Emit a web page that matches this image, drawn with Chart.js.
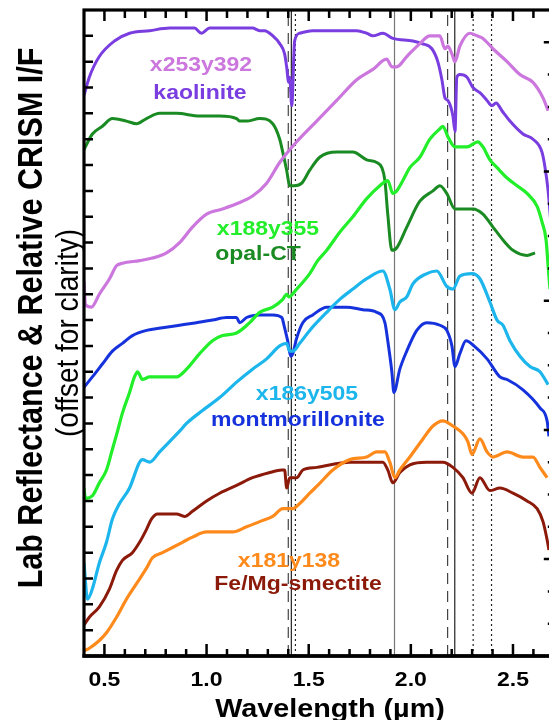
<!DOCTYPE html>
<html>
<head>
<meta charset="utf-8">
<script src="https://cdn.jsdelivr.net/npm/chart.js@4/dist/chart.umd.min.js"></script>
<style>
  html, body { margin: 0; padding: 0; overflow: hidden; background: #fff; }
  #wrap { position: relative; width: 560px; height: 720px; }
</style>
</head>
<body>
<div id="wrap"><canvas id="chart"></canvas></div>
<script>
// --- data (wavelength in µm, offset reflectance / I/F) ---
const kaolWl = [0.40,0.426,0.475,0.549,0.623,0.721,0.819,0.941,0.975,1.015,1.225,1.26,1.284,1.324,1.358,1.382,1.392,1.402,1.407,1.417,1.431,1.456,1.52,1.652,1.735,1.784,1.814,1.863,1.912,2.01,2.054,2.103,2.132,2.152,2.167,2.181,2.206,2.216,2.225,2.24,2.275,2.304,2.338,2.373,2.397,2.417,2.446,2.485,2.549,2.598,2.642,2.657,2.672,2.686];
const kaolVal = [2.17,2.24,2.32,2.38,2.41,2.42,2.43,2.43,2.41,2.43,2.43,2.42,2.42,2.40,2.37,2.33,2.28,2.22,2.24,2.13,2.38,2.41,2.42,2.42,2.42,2.41,2.40,2.41,2.39,2.38,2.37,2.35,2.30,2.23,2.16,2.15,2.09,2.03,2.24,2.25,2.24,2.20,2.18,2.15,2.13,2.14,2.11,2.07,2.02,2.00,1.95,1.89,1.80,1.67];

const x253Wl = [0.40,0.407,0.436,0.475,0.525,0.559,0.588,0.672,0.735,0.804,0.868,0.931,1.00,1.078,1.147,1.225,1.294,1.358,1.441,1.539,1.637,1.735,1.814,1.882,1.907,1.931,1.98,2.044,2.093,2.118,2.142,2.167,2.181,2.201,2.216,2.24,2.289,2.324,2.353,2.402,2.471,2.534,2.598,2.647,2.672];
const x253Val = [1.45,1.36,1.35,1.40,1.46,1.51,1.52,1.53,1.54,1.56,1.60,1.66,1.71,1.73,1.75,1.78,1.83,1.91,1.99,2.07,2.15,2.23,2.27,2.31,2.28,2.28,2.32,2.37,2.40,2.40,2.40,2.35,2.36,2.33,2.30,2.36,2.41,2.40,2.39,2.35,2.30,2.25,2.22,2.16,2.11];

const opalWl = [0.40,0.441,0.49,0.539,0.608,0.657,0.706,0.77,0.853,0.966,1.064,1.147,1.162,1.196,1.26,1.324,1.358,1.373,1.392,1.407,1.431,1.466,1.505,1.554,1.637,1.716,1.784,1.833,1.858,1.873,1.887,1.907,1.931,1.98,2.044,2.108,2.142,2.176,2.216,2.255,2.304,2.353,2.402,2.451,2.50,2.569,2.608];
const opalVal = [1.96,2.02,2.05,2.08,2.07,2.06,2.08,2.10,2.10,2.09,2.09,2.08,2.07,2.07,2.08,2.06,2.00,1.95,1.88,1.82,1.82,1.83,1.88,1.93,1.95,1.95,1.92,1.91,1.89,1.84,1.71,1.57,1.58,1.66,1.76,1.80,1.82,1.79,1.73,1.73,1.73,1.71,1.66,1.61,1.57,1.55,1.56];

const x188Wl = [0.40,0.407,0.441,0.475,0.51,0.539,0.564,0.588,0.623,0.647,0.662,0.686,0.721,0.77,0.819,0.853,0.902,0.966,1.029,1.078,1.147,1.211,1.26,1.324,1.373,1.392,1.402,1.441,1.505,1.544,1.588,1.652,1.716,1.784,1.848,1.887,1.912,1.931,1.961,1.995,2.044,2.093,2.142,2.157,2.181,2.216,2.275,2.328,2.353,2.387,2.422,2.471,2.52,2.569,2.618,2.642,2.662,2.672,2.681];
const x188Val = [0.65,0.61,0.62,0.67,0.72,0.80,0.87,0.94,1.02,1.08,1.10,1.07,1.08,1.08,1.08,1.08,1.11,1.17,1.22,1.24,1.25,1.29,1.33,1.35,1.38,1.40,1.39,1.42,1.48,1.53,1.57,1.64,1.70,1.77,1.82,1.84,1.79,1.80,1.84,1.89,1.93,2.00,2.04,2.05,2.01,1.97,1.97,1.99,1.97,1.92,1.89,1.85,1.82,1.79,1.74,1.68,1.61,1.51,1.42];

const montWl = [0.40,0.441,0.49,0.539,0.588,0.637,0.706,0.784,0.868,0.951,1.029,1.098,1.147,1.162,1.196,1.26,1.324,1.368,1.382,1.397,1.412,1.422,1.441,1.471,1.52,1.588,1.686,1.765,1.833,1.873,1.887,1.907,1.917,1.946,1.98,2.029,2.078,2.142,2.176,2.201,2.216,2.24,2.27,2.309,2.373,2.436,2.471,2.549,2.632,2.667,2.676];
const montVal = [1.04,1.08,1.13,1.18,1.21,1.24,1.26,1.27,1.28,1.29,1.30,1.31,1.31,1.29,1.31,1.32,1.32,1.31,1.27,1.22,1.16,1.17,1.23,1.29,1.32,1.35,1.35,1.34,1.33,1.29,1.22,1.10,1.02,1.11,1.18,1.26,1.29,1.28,1.26,1.20,1.12,1.17,1.22,1.20,1.15,1.08,1.07,1.03,0.96,0.91,0.85];

const x186Wl = [0.40,0.417,0.441,0.475,0.51,0.539,0.574,0.623,0.672,0.686,0.721,0.77,0.819,0.868,0.902,0.98,1.064,1.147,1.225,1.294,1.358,1.392,1.407,1.422,1.456,1.505,1.588,1.652,1.716,1.784,1.863,1.897,1.922,1.946,1.98,2.01,2.078,2.127,2.176,2.206,2.24,2.299,2.338,2.387,2.422,2.451,2.485,2.534,2.583,2.632,2.672];
const x186Val = [0.36,0.22,0.26,0.36,0.44,0.53,0.59,0.65,0.75,0.76,0.75,0.79,0.83,0.87,0.90,0.95,1.00,1.06,1.11,1.15,1.20,1.21,1.18,1.18,1.21,1.26,1.33,1.38,1.42,1.46,1.49,1.42,1.34,1.37,1.39,1.44,1.48,1.49,1.43,1.42,1.47,1.48,1.46,1.37,1.30,1.28,1.22,1.16,1.12,1.10,1.05];

const smecWl = [0.40,0.426,0.475,0.525,0.559,0.588,0.637,0.672,0.706,0.73,0.76,0.804,0.853,0.892,0.931,1.00,1.064,1.147,1.225,1.309,1.368,1.382,1.392,1.407,1.441,1.471,1.539,1.701,1.863,1.887,1.912,1.946,1.995,2.078,2.157,2.206,2.255,2.299,2.338,2.387,2.436,2.50,2.569,2.618,2.647,2.667,2.676];
const smecVal = [0.12,0.15,0.19,0.26,0.33,0.37,0.40,0.44,0.49,0.53,0.55,0.55,0.55,0.54,0.56,0.60,0.63,0.66,0.69,0.71,0.72,0.72,0.65,0.69,0.69,0.72,0.73,0.75,0.75,0.72,0.67,0.71,0.74,0.75,0.75,0.73,0.69,0.63,0.69,0.64,0.65,0.63,0.60,0.57,0.52,0.45,0.41];

const x181Wl = [0.40,0.426,0.475,0.51,0.559,0.608,0.657,0.706,0.735,0.784,0.833,0.882,0.931,1.00,1.064,1.127,1.196,1.26,1.324,1.373,1.422,1.456,1.505,1.544,1.618,1.701,1.784,1.833,1.873,1.897,1.922,1.946,1.995,2.059,2.108,2.157,2.206,2.255,2.279,2.299,2.338,2.373,2.402,2.471,2.549,2.598,2.632,2.667];
const x181Val = [0.02,0.03,0.06,0.09,0.15,0.22,0.28,0.34,0.38,0.40,0.42,0.44,0.46,0.48,0.48,0.48,0.50,0.52,0.54,0.57,0.57,0.59,0.63,0.66,0.72,0.76,0.77,0.79,0.79,0.75,0.69,0.72,0.77,0.84,0.89,0.91,0.89,0.86,0.83,0.78,0.84,0.79,0.77,0.79,0.77,0.77,0.73,0.69];

// band-centre guide lines (µm)
const dashedLines = [1.40, 2.18];
const solidLines = [1.415, 1.92, 2.215];
const dottedLines = [1.435, 2.305, 2.395];

const xTickValues = [0.5, 1.0, 1.5, 2.0, 2.5];
const xTickLabels = ['0.5', '1.0', '1.5', '2.0', '2.5'];

const spectrumNames = ['x253y392', 'kaolinite', 'x188y355', 'opal-CT', 'x186y505', 'montmorillonite', 'x181y138', 'Fe/Mg-smectite'];

// --- styling / layout ---
const FONT = '"Liberation Sans", Arial, Helvetica, sans-serif';
const SX = 1.15; // figure is slightly stretched horizontally
const colors = {
    'x253y392': '#cc77dd',
    'kaolinite': '#7a3de0',
    'x188y355': '#22ee2a',
    'opal-CT': '#1a8a22',
    'x186y505': '#1cb6ec',
    'montmorillonite': '#1632dc',
    'x181y138': '#ff8a1c',
    'Fe/Mg-smectite': '#8c1a0a'
};
const labelPos = {
    'x253y392': [201, 71],
    'kaolinite': [200, 99],
    'x188y355': [268, 235],
    'opal-CT': [258, 260],
    'x186y505': [307, 400],
    'montmorillonite': [298, 426],
    'x181y138': [289, 567],
    'Fe/Mg-smectite': [298, 590]
};

function zip(wl, val) {
    return wl.map((w, i) => ({ x: w, y: val[i] }));
}

function spectrum(name, wl, val, width) {
    return {
        label: name,
        data: zip(wl, val),
        borderColor: colors[name],
        borderWidth: width,
        pointRadius: 0,
        cubicInterpolationMode: 'monotone',
        borderJoinStyle: 'round',
        fill: false,
        order: 0
    };
}

function guide(w, color, dash) {
    return {
        label: 'guide ' + w,
        data: [{ x: w, y: 0 }, { x: w, y: 2.5 }],
        borderColor: color,
        borderWidth: 1.2,
        borderDash: dash,
        pointRadius: 0,
        fill: false,
        order: 1
    };
}

const datasets = [
    spectrum('x253y392', x253Wl, x253Val, 3.2),
    spectrum('x188y355', x188Wl, x188Val, 3.2),
    spectrum('x186y505', x186Wl, x186Val, 3.2),
    spectrum('x181y138', x181Wl, x181Val, 3.2),
    spectrum('kaolinite', kaolWl, kaolVal, 3),
    spectrum('opal-CT', opalWl, opalVal, 3),
    spectrum('montmorillonite', montWl, montVal, 3),
    spectrum('Fe/Mg-smectite', smecWl, smecVal, 3)
];
dashedLines.forEach(w => datasets.push(guide(w, '#444', [11, 7])));
solidLines.forEach(w => datasets.push(guide(w, w > 1.5 && w < 2 ? '#777' : '#222', [])));
dottedLines.forEach(w => datasets.push(guide(w, '#222', [2, 3])));

function drawText(ctx, text, x, y, font, color, align, rotated) {
    ctx.save();
    ctx.translate(x, y);
    ctx.scale(SX, 1);
    if (rotated) ctx.rotate(-Math.PI / 2);
    ctx.font = font;
    ctx.fillStyle = color;
    ctx.textAlign = align;
    ctx.textBaseline = 'alphabetic';
    ctx.fillText(text, 0, 0);
    ctx.restore();
}

// axes, inward ticks and all text
const framePlugin = {
    id: 'frame',
    afterDatasetsDraw(chart) {
        const { ctx, chartArea: a, scales } = chart;
        const x = scales.x, y = scales.y, y2 = scales.y2;
        ctx.save();
        ctx.strokeStyle = '#000';
        ctx.lineWidth = 2.5;
        ctx.beginPath();
        for (let i = 5; i <= 26; i++) {
            const px = x.getPixelForValue(i / 10);
            const major = i % 5 === 0;
            ctx.moveTo(px, a.bottom);
            ctx.lineTo(px, a.bottom - (major ? 12 : 7));
            ctx.moveTo(px, a.top);
            ctx.lineTo(px, a.top + (major ? 11 : 8));
        }
        for (let i = 1; i <= 24; i++) {
            const py = y.getPixelForValue(i / 10);
            ctx.moveTo(a.left, py);
            ctx.lineTo(a.left + 9, py);
        }
        for (let i = -2; i <= 17; i++) {
            const py = y2.getPixelForValue(i * 0.025);
            if (py < a.top + 2 || py > a.bottom - 2) continue;
            ctx.moveTo(a.right, py);
            ctx.lineTo(a.right - (i % 4 === 0 ? 8 : 4), py);
        }
        ctx.stroke();

        ctx.lineWidth = 3.2;
        ctx.strokeRect(a.left, a.top, a.right - a.left, a.bottom - a.top);
        ctx.lineWidth = 3.5;
        ctx.beginPath();
        ctx.moveTo(a.left - 1.6, a.bottom);
        ctx.lineTo(a.right, a.bottom);
        ctx.stroke();
        ctx.restore();

        // tick labels
        xTickValues.forEach((v, i) => {
            drawText(ctx, xTickLabels[i], x.getPixelForValue(v), 686, 'bold 20px ' + FONT, '#000', 'center', false);
        });
        // axis titles
        drawText(ctx, 'Wavelength (\u00b5m)', 330, 717, 'bold 25px ' + FONT, '#000', 'center', false);
        drawText(ctx, 'Lab Reflectance & Relative CRISM I/F', 42, 318, 'bold 30.5px ' + FONT, '#000', 'center', true);
        drawText(ctx, '(offset for clarity)', 78, 333, '28px ' + FONT, '#000', 'center', true);

        // spectrum labels
        spectrumNames.forEach(n => {
            const p = labelPos[n];
            drawText(ctx, n, p[0], p[1], 'bold 20px ' + FONT, colors[n], 'center', false);
        });
    }
};

new Chart(document.getElementById('chart'), {
    type: 'line',
    data: { datasets: datasets },
    options: {
        responsive: true,
        maintainAspectRatio: false,
        animation: false,
        layout: { padding: { left: 84, right: 8.2, top: 10, bottom: 64 } },
        plugins: { legend: { display: false }, tooltip: { enabled: false } },
        scales: {
            x: { type: 'linear', display: false, min: 0.4, max: 2.69 },
            y: { type: 'linear', display: false, min: 0, max: 2.5 },
            y2: { type: 'linear', display: false, position: 'right', min: -0.075, max: 0.425 }
        }
    },
    plugins: [framePlugin]
});
</script>
</body>
</html>
